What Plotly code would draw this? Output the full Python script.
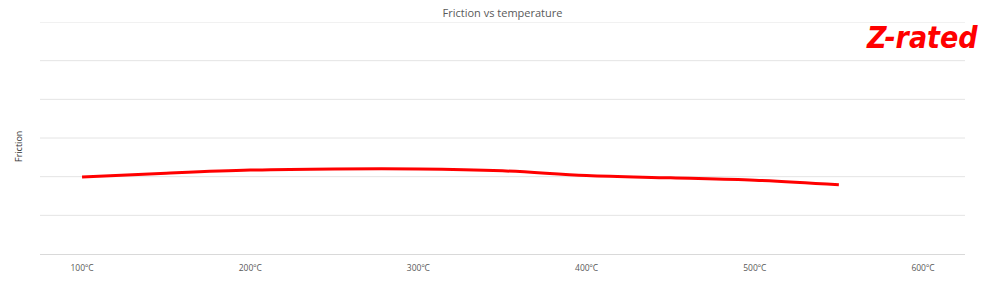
import plotly.graph_objects as go

temperatures = [100, 150, 200, 250, 300, 350, 400, 450, 500, 550]
friction = [0.199, 0.209, 0.217, 0.220, 0.220, 0.215, 0.203, 0.197, 0.191, 0.179]
tick_values = [100, 200, 300, 400, 500, 600]
tick_labels = ["100ºC", "200ºC", "300ºC", "400ºC", "500ºC", "600ºC"]
grid_levels = [0.1, 0.2, 0.3, 0.4, 0.5, 0.6]

W, H = 993, 282
L, R, T, B = 40, 28, 22, 28

fig = go.Figure()
fig.add_trace(go.Scatter(
    x=temperatures, y=friction, mode="lines",
    line=dict(color="#ff0000", width=3, shape="spline", smoothing=1.0),
    hoverinfo="skip", showlegend=False,
))

shapes = [dict(type="line", xref="paper", yref="y", x0=0, x1=1, y0=g, y1=g,
               line=dict(color="#e4e4e4", width=1), layer="below") for g in grid_levels]

fig.update_layout(
    width=W, height=H,
    margin=dict(l=L, r=R, t=T, b=B),
    paper_bgcolor="white", plot_bgcolor="white",
    font=dict(family="Open Sans, Lato, sans-serif", color="#595959"),
    title=dict(text="Friction vs temperature", x=(L + (W - L - R) / 2) / W, xanchor="center",
               y=1 - 13 / H, yanchor="middle", yref="container",
               font=dict(size=11, color="#595959")),
    xaxis=dict(range=[75, 625], tickvals=tick_values, ticktext=tick_labels,
               showgrid=False, zeroline=False, showline=False, ticks="",
               tickfont=dict(size=8.5, color="#595959"), ticklabelstandoff=7,
               automargin=False),
    yaxis=dict(range=[0, 0.6], showticklabels=False, showgrid=False,
               zeroline=True, zerolinecolor="#d9d9d9",
               zerolinewidth=1, showline=False, ticks="", automargin=False),
    shapes=shapes,
    annotations=[
        dict(text="Friction", xref="paper", yref="paper", x=(18 - L) / (W - L - R),
             y=1 - (147 - T) / (H - T - B),
             xanchor="center", yanchor="middle", textangle=-90, showarrow=False,
             font=dict(size=9, color="#333333")),
        dict(text="<b><i>Z-rated</i></b>", xref="paper", yref="paper",
             x=(980 - L) / (W - L - R), y=1 - (37 - T) / (H - T - B),
             xanchor="right", yanchor="middle", showarrow=False,
             font=dict(size=30, color="#ff0000", family="DejaVu Sans Condensed, Liberation Sans Narrow, sans-serif")),
    ],
)

fig.write_html("out.html")
